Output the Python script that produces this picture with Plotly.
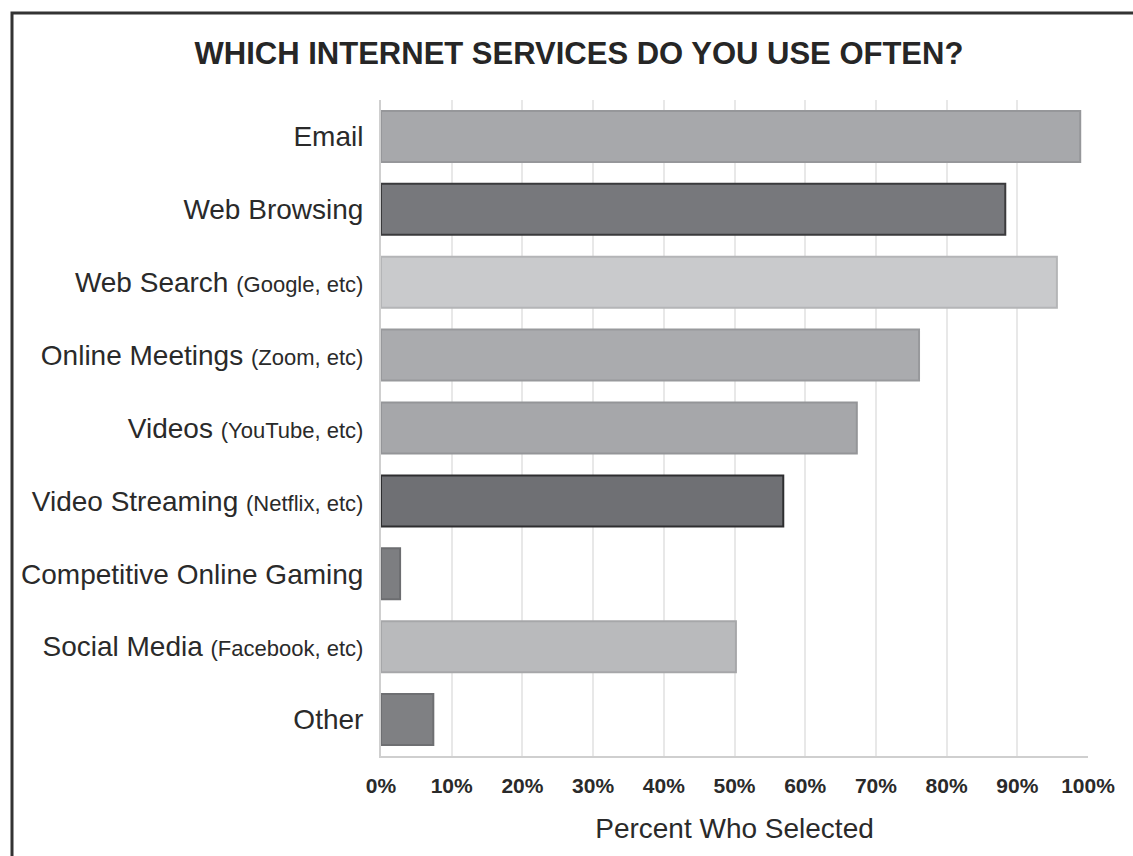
import plotly.graph_objects as go

categories = [
    "Email",
    "Web Browsing",
    "Web Search (Google, etc)",
    "Online Meetings (Zoom, etc)",
    "Videos (YouTube, etc)",
    "Video Streaming (Netflix, etc)",
    "Competitive Online Gaming",
    "Social Media (Facebook, etc)",
    "Other",
]
main_labels = ["Email", "Web Browsing", "Web Search", "Online Meetings", "Videos",
               "Video Streaming", "Competitive Online Gaming", "Social Media", "Other"]
sub_labels = ["", "", "(Google, etc)", "(Zoom, etc)", "(YouTube, etc)",
              "(Netflix, etc)", "", "(Facebook, etc)", ""]
values = [98.9, 88.3, 95.6, 76.1, 67.3, 56.9, 2.7, 50.2, 7.4]
bar_colors = ["#a7a8ab", "#77787c", "#c9cacc", "#aaabae", "#a6a7aa",
              "#6f7074", "#7d7e81", "#b9babc", "#7f8083"]
line_colors = ["#96979a", "#3a3a3c", "#b4b5b7", "#98999c", "#949598",
               "#2e2e30", "#6c6d70", "#a6a7a9", "#6e6f72"]
x_ticks = [0, 10, 20, 30, 40, 50, 60, 70, 80, 90, 100]
x_ticktext = [f"{t}%" for t in x_ticks]

ticktext = []
for m, s in zip(main_labels, sub_labels):
    if s:
        ticktext.append(f"{m} <span style='font-size:22px'>{s}</span>")
    else:
        ticktext.append(m)

fig = go.Figure(go.Bar(
    x=values,
    y=categories,
    orientation="h",
    marker=dict(color=bar_colors, line=dict(color=line_colors, width=2)),
    width=0.7,
    hoverinfo="x+y",
))

L, R, T, B = 381, 1133 - 1088, 100, 856 - 756
W, H = 1133, 856
pw, ph = W - L - R, H - T - B

def px_x(px):
    return (px - L) / pw

def px_y(py):
    return (H - B - py) / ph

fig.update_layout(
    width=W, height=H,
    margin=dict(l=L, r=R, t=T, b=B),
    paper_bgcolor="white",
    plot_bgcolor="white",
    font=dict(family="Liberation Sans, Arial, Helvetica, sans-serif", color="#2a2a2a"),
    showlegend=False,
    title=dict(
        text="<b>WHICH INTERNET SERVICES DO YOU USE OFTEN?</b>",
        font=dict(size=31, color="#262626"),
        x=579 / W, xanchor="center",
        y=1 - 53 / H, yanchor="middle",
    ),
    xaxis=dict(
        range=[0, 100],
        tickvals=x_ticks,
        ticktext=[f"<b>{t}</b>" for t in x_ticktext],
        tickfont=dict(size=21, color="#2a2a2a"),
        showgrid=True, gridcolor="#e8e8e8", gridwidth=2,
        showline=True, linecolor="#cfcfcf", linewidth=2,
        zeroline=False,
        ticks="outside", ticklen=10, tickcolor="rgba(0,0,0,0)",
        title=dict(text="Percent Who Selected", font=dict(size=28, color="#2a2a2a"), standoff=22),
    ),
    yaxis=dict(
        categoryorder="array", categoryarray=categories,
        autorange="reversed",
        tickvals=categories,
        ticktext=ticktext,
        tickfont=dict(size=28, color="#2a2a2a"),
        showline=True, linecolor="#cfcfcf", linewidth=2,
        showgrid=False,
        ticks="outside", ticklen=10, tickcolor="rgba(0,0,0,0)",
    ),
    shapes=[dict(
        type="rect", xref="paper", yref="paper",
        x0=px_x(12), x1=px_x(1150), y0=px_y(880), y1=px_y(13),
        line=dict(color="#333333", width=3), fillcolor="rgba(0,0,0,0)",
        layer="above",
    )],
)

fig.write_html("out.html")
